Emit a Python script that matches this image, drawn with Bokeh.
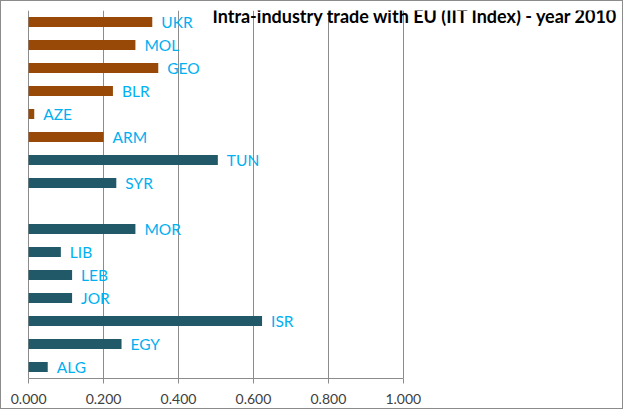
from bokeh.plotting import figure
from bokeh.models import ColumnDataSource, FactorRange, Range1d, FixedTicker
from bokeh.core.properties import value
from bokeh.embed import file_html
from bokeh.resources import INLINE

# ---- data ----
east_countries = ["UKR", "MOL", "GEO", "BLR", "AZE", "ARM"]
east_values = [0.330, 0.285, 0.346, 0.225, 0.015, 0.200]
south_countries = ["TUN", "SYR", "MOR", "LIB", "LEB", "JOR", "ISR", "EGY", "ALG"]
south_values = [0.505, 0.234, 0.285, 0.086, 0.116, 0.116, 0.623, 0.248, 0.051]
# category order from top to bottom (empty slot between SYR and MOR)
categories_top_down = ["UKR", "MOL", "GEO", "BLR", "AZE", "ARM", "TUN", "SYR", "",
                       "MOR", "LIB", "LEB", "JOR", "ISR", "EGY", "ALG"]
tick_values = [0.0, 0.2, 0.4, 0.6, 0.8, 1.0]
tick_labels = ["0.000", "0.200", "0.400", "0.600", "0.800", "1.000"]
title_text = "Intra-industry trade with EU (IIT Index) - year 2010"

FONT = "Lato"
EAST_COLOR = "#984807"
SOUTH_COLOR = "#215968"
LABEL_COLOR = "#00B0F0"
GRID_COLOR = "#8C8C8C"

x_start = -0.003
x_end = x_start + 597 / 374.7

p = figure(width=623, height=409, output_backend="svg", toolbar_location=None,
           y_range=FactorRange(factors=list(reversed(categories_top_down))),
           x_range=Range1d(x_start, x_end),
           min_border_left=26, min_border_right=0, min_border_top=9, min_border_bottom=32)
p.styles = {"border": "1px solid #8C8C8C"}
p.outline_line_color = None
p.background_fill_color = "white"
p.border_fill_color = "white"

east = ColumnDataSource(dict(y=east_countries, v=east_values))
south = ColumnDataSource(dict(y=south_countries, v=south_values))

for src, col in ((east, EAST_COLOR), (south, SOUTH_COLOR)):
    p.hbar(y="y", left=0, right="v", height=0.43, source=src,
           fill_color=col, line_color=None)
    p.text(x="v", y="y", text="y", source=src, x_offset=9,
           text_baseline="middle", text_align="left",
           text_font=value(FONT), text_font_size="15.5px", text_color=LABEL_COLOR)

# title
tsrc = ColumnDataSource(dict(x=[x_end], y=[categories_top_down[0]], t=[title_text]))
p.text(x="x", y="y", text="t", source=tsrc, x_offset=-6, y_offset=-6,
       text_align="right", text_baseline="middle", text_font=value(FONT),
       text_font_size="18px", text_font_style="bold", text_color="black")

p.yaxis.visible = False
p.ygrid.visible = False

p.xaxis.ticker = FixedTicker(ticks=tick_values)
p.xaxis.major_label_overrides = {t: l for t, l in zip(tick_values, tick_labels)}
p.xaxis.bounds = (0, 1.0)
p.xaxis.axis_line_color = GRID_COLOR
p.xaxis.major_tick_line_color = GRID_COLOR
p.xaxis.major_tick_out = 5
p.xaxis.major_tick_in = 0
p.xaxis.minor_tick_line_color = None
p.xaxis.major_label_standoff = 10
p.xaxis.major_label_text_font = FONT
p.xaxis.major_label_text_font_size = "14px"
p.xaxis.major_label_text_color = "#404040"

p.xgrid.ticker = FixedTicker(ticks=tick_values)
p.xgrid.grid_line_color = GRID_COLOR
p.xgrid.grid_line_alpha = 1.0

open("out.html", "w").write(file_html(p, INLINE))
